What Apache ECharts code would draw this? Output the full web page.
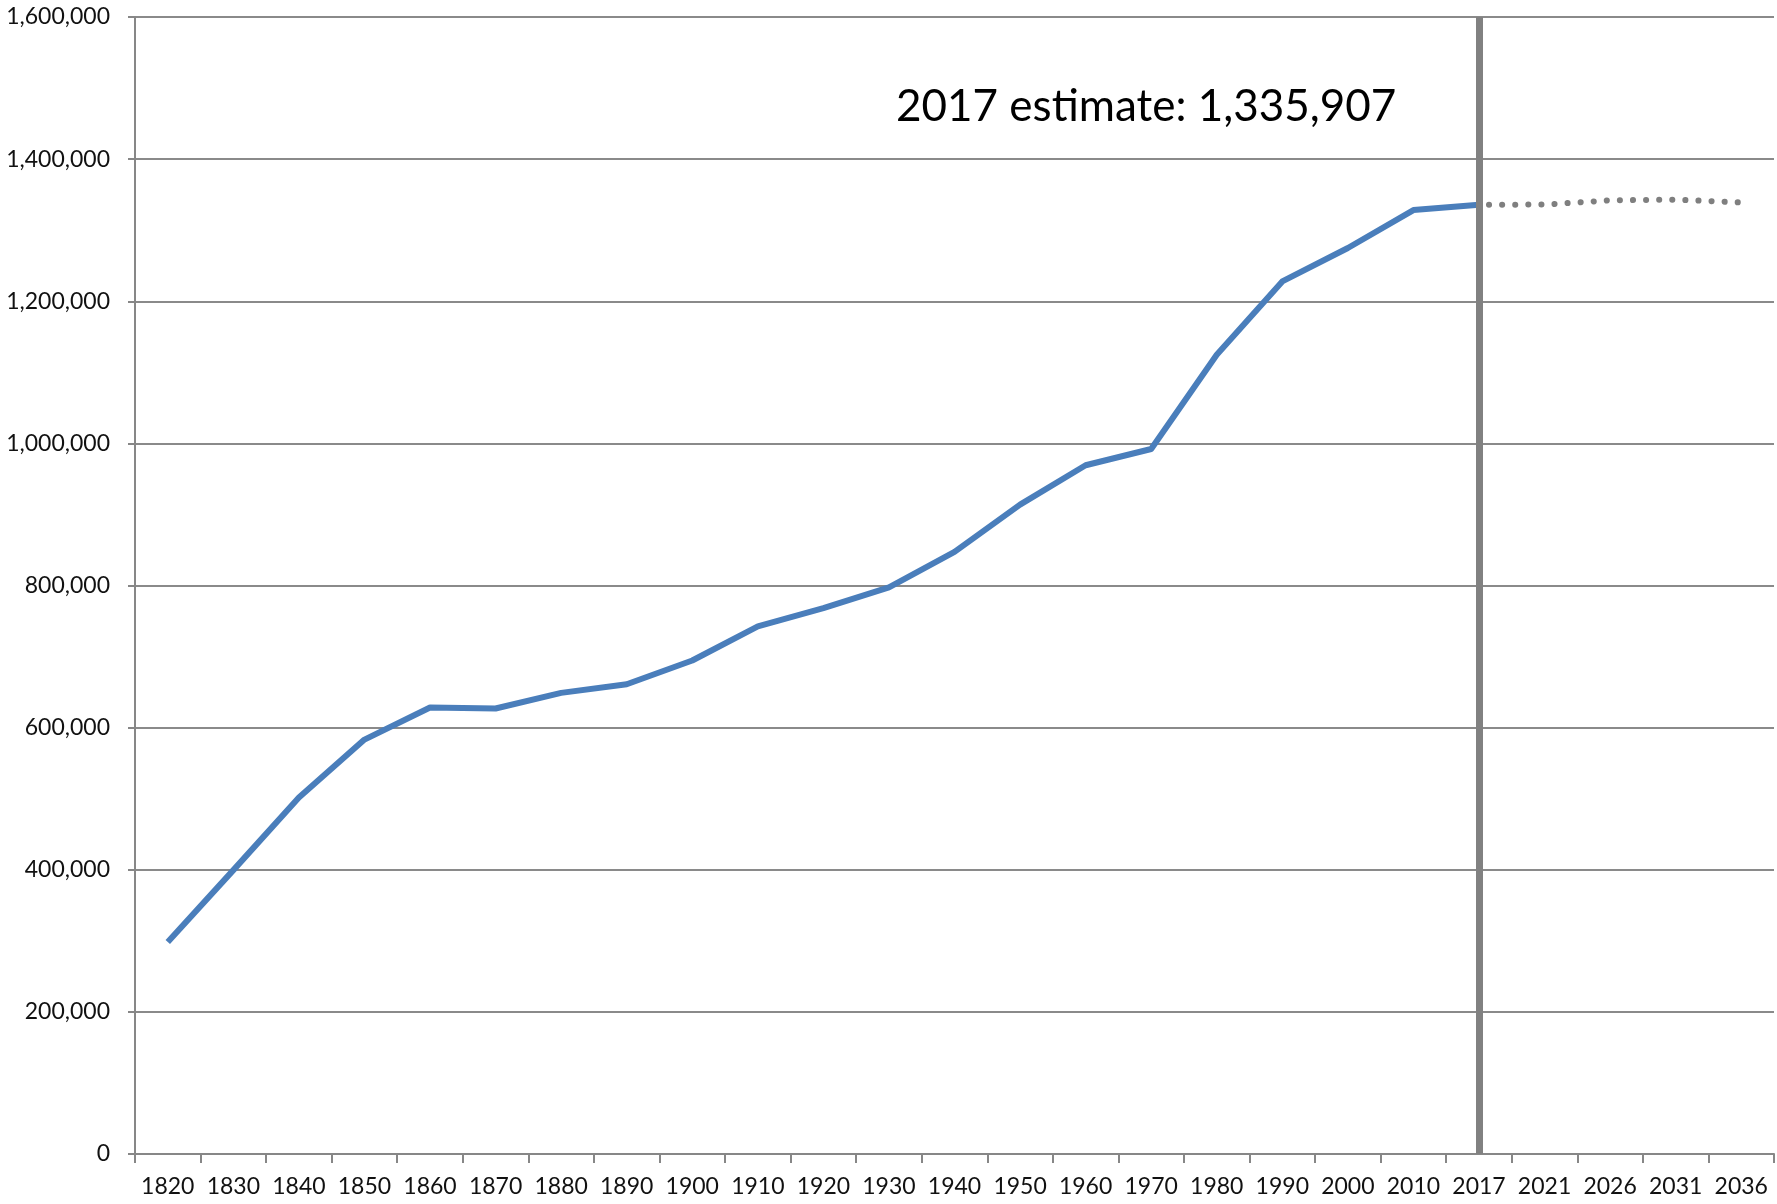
<!DOCTYPE html>
<html>
<head>
<meta charset="utf-8">
<script src="https://cdn.jsdelivr.net/npm/echarts@6/dist/echarts.min.js"></script>
<style>
html,body{margin:0;padding:0;background:#fff;}
#chart{width:1777px;height:1204px;}
</style>
</head>
<body>
<div id="chart"></div>
<script>
var years = ['1820','1830','1840','1850','1860','1870','1880','1890','1900','1910','1920','1930','1940','1950','1960','1970','1980','1990','2000','2010','2017','2021','2026','2031','2036'];
var population = [298335,399455,501793,583169,628279,626915,648936,661086,694466,742371,768014,797423,847226,913774,969265,992048,1124660,1227928,1274923,1328361,1335907,null,null,null,null];
var projection = [null,null,null,null,null,null,null,null,null,null,null,null,null,null,null,null,null,null,null,null,1335907,1336000,1342000,1343000,1339000];
var markerYear = '2017';
var annotation = '2017 estimate: 1,335,907';

var chart = echarts.init(document.getElementById('chart'));
var font = 'Lato';
chart.setOption({
  animation: false,
  backgroundColor: '#ffffff',
  title: {
    text: annotation,
    left: 896,
    top: 85,
    padding: 0,
    textStyle: {fontFamily: font, fontSize: 44, fontWeight: 'normal', color: '#000'}
  },
  grid: {left: 135, right: 3, top: 17, bottom: 50, containLabel: false},
  xAxis: {
    type: 'category',
    data: years,
    boundaryGap: true,
    axisLine: {show: true, lineStyle: {color: '#878787', width: 2}},
    axisTick: {show: true, length: 9, alignWithLabel: false, lineStyle: {color: '#878787', width: 2}},
    axisLabel: {fontFamily: font, fontSize: 23, color: '#111', margin: 21, interval: 0},
    splitLine: {show: false}
  },
  yAxis: {
    type: 'value',
    min: 0,
    max: 1600000,
    interval: 200000,
    axisLine: {show: true, lineStyle: {color: '#878787', width: 2}},
    axisTick: {show: true, length: 7, lineStyle: {color: '#878787', width: 2}},
    axisLabel: {
      fontFamily: font, fontSize: 23, color: '#111', margin: 25,
      formatter: function (v) { return v.toLocaleString('en-US'); }
    },
    splitLine: {show: true, lineStyle: {color: '#8a8a8a', width: 2}}
  },
  series: [
    {
      type: 'line',
      data: projection,
      symbol: 'none',
      connectNulls: false,
      z: 2,
      lineStyle: {color: '#7f7f7f', width: 6, type: [0.1, 13], cap: 'round', dashOffset: -10}
    },
    {
      type: 'line',
      data: population,
      symbol: 'none',
      z: 3,
      lineStyle: {color: '#4a7ebb', width: 6, join: 'round'},
      markLine: {
        silent: true,
        symbol: ['none', 'none'],
        label: {show: false},
        lineStyle: {color: '#818181', width: 7, type: 'solid'},
        data: [{xAxis: markerYear}]
      }
    }
  ]
});
</script>
</body>
</html>
